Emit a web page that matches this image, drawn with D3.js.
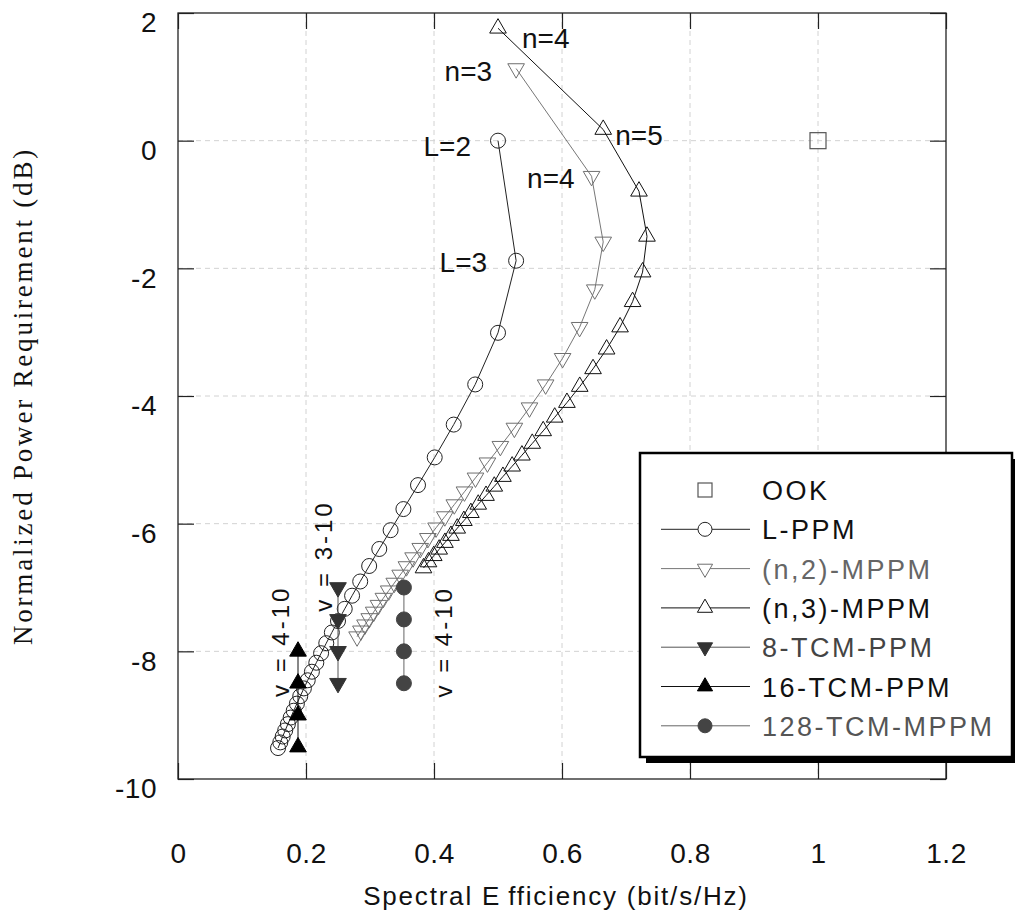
<!DOCTYPE html>
<html>
<head>
<meta charset="utf-8">
<script src="https://cdn.jsdelivr.net/npm/d3@7"></script>
<style>
  body { margin: 0; background: #ffffff; }
  svg { display: block; }
</style>
</head>
<body>
<svg id="chart" width="1015" height="915"></svg>
<script>
// ---- Axis ticks ----
const xTickValues = [0, 0.2, 0.4, 0.6, 0.8, 1, 1.2];
const yTickValues = [2, 0, -2, -4, -6, -8, -10];

// ---- Series: spectral efficiency (bit/s/Hz) vs normalized power (dB) ----
const ookX = [1.0];
const ookY = [0];

// L-PPM, L = 2 ... 32
const lppmX = [0.5, 0.5283, 0.5, 0.4644, 0.4308, 0.4011, 0.375, 0.3522, 0.3322, 0.3145, 0.2987,
  0.2847, 0.2720, 0.2605, 0.25, 0.2404, 0.2317, 0.2236, 0.2161, 0.2092, 0.2027, 0.1967, 0.1910,
  0.1858, 0.1808, 0.1761, 0.1717, 0.1675, 0.1636, 0.1598, 0.1563];
const lppmY = [0, -1.8806, -3.0103, -3.8190, -4.4479, -4.9619, -5.3959, -5.7714, -6.1018, -6.3968,
  -6.6632, -6.9059, -7.1286, -7.3345, -7.5257, -7.7044, -7.8719, -8.0295, -8.1784, -8.3194, -8.4534,
  -8.5809, -8.7026, -8.8190, -8.9304, -9.0374, -9.1401, -9.2391, -9.3345, -9.4265, -9.5154];

// (n,2)-MPPM, n = 3 ... 32
const mppm2X = [0.5283, 0.6462, 0.6644, 0.6512, 0.6275, 0.6009, 0.5744, 0.5492, 0.5256, 0.5037,
  0.4835, 0.4648, 0.4476, 0.4317, 0.4169, 0.4032, 0.3904, 0.3785, 0.3673, 0.3569, 0.3471, 0.3379,
  0.3292, 0.3209, 0.3132, 0.3058, 0.2988, 0.2922, 0.2858, 0.2798];
const mppm2Y = [1.1298, -0.5572, -1.5864, -2.3345, -2.9235, -3.4096, -3.8232, -4.1831, -4.5017,
  -4.7872, -5.0460, -5.2824, -5.5000, -5.7016, -5.8893, -6.0648, -6.2298, -6.3852, -6.5321, -6.6715,
  -6.8040, -6.9303, -7.0509, -7.1664, -7.2770, -7.3833, -7.4855, -7.5839, -7.6788, -7.7705];

// (n,3)-MPPM, n = 4 ... 32
const mppm3X = [0.5, 0.6644, 0.7203, 0.7328, 0.7259, 0.7103, 0.6907, 0.6697, 0.6485, 0.6277,
  0.6077, 0.5886, 0.5706, 0.5535, 0.5374, 0.5221, 0.5077, 0.4942, 0.4813, 0.4691, 0.4576, 0.4467,
  0.4363, 0.4265, 0.4171, 0.4081, 0.3996, 0.3914, 0.3836];
const mppm3Y = [1.7609, 0.1746, -0.7928, -1.4994, -2.0590, -2.5232, -2.9200, -3.2668, -3.5748,
  -3.8518, -4.1033, -4.3338, -4.5464, -4.7437, -4.9277, -5.1001, -5.2622, -5.4151, -5.5600, -5.6975,
  -5.8283, -5.9531, -6.0724, -6.1866, -6.2962, -6.4015, -6.5029, -6.6005, -6.6947];

// Trellis-coded schemes
const tcm8X = [0.25, 0.25, 0.25, 0.25];
const tcm8Y = [-7, -7.5, -8, -8.5];
const tcm16X = [0.1875, 0.1875, 0.1875, 0.1875];
const tcm16Y = [-8, -8.5, -9, -9.5];
const tcm128X = [0.353, 0.353, 0.353, 0.353];
const tcm128Y = [-7, -7.5, -8, -8.5];

const legendNames = ["OOK", "L-PPM", "(n,2)-MPPM", "(n,3)-MPPM", "8-TCM-PPM", "16-TCM-PPM", "128-TCM-MPPM"];

// ---- Layout ----
const svg = d3.select("#chart");
const plot = { left: 178, right: 946, top: 13, bottom: 779 };
const SANS = "'Liberation Sans', Arial, Helvetica, sans-serif";
const SERIF = "'Liberation Serif', 'Times New Roman', Times, serif";

const x = d3.scaleLinear().domain([0, 1.2]).range([plot.left, plot.right]);
const y = d3.scaleLinear().domain([-10, 2]).range([plot.bottom, plot.top]);

// Dashed grid
const grid = svg.append("g")
  .attr("stroke", "#d2d2d2").attr("stroke-width", 1).attr("stroke-dasharray", "5,4");
xTickValues.filter(v => v > 0 && v < 1.2).forEach(v => {
  grid.append("line").attr("x1", x(v)).attr("x2", x(v)).attr("y1", plot.top).attr("y2", plot.bottom);
});
yTickValues.filter(v => v < 2 && v > -10).forEach(v => {
  grid.append("line").attr("y1", y(v)).attr("y2", y(v)).attr("x1", plot.left).attr("x2", plot.right);
});

// Axes with inward ticks on all four sides
const TICK = 16;
function styleAxis(g) {
  g.select(".domain").remove();
  g.selectAll(".tick line").attr("stroke", "#222").attr("stroke-width", 1.2);
  g.selectAll(".tick text").attr("fill", "#111").style("font-family", SANS)
    .style("font-size", "28px").style("letter-spacing", "0.5px");
}
svg.append("g").attr("transform", `translate(0,${plot.bottom})`)
  .call(d3.axisBottom(x).tickValues(xTickValues).tickSize(-TICK).tickSizeOuter(0)
    .tickPadding(64).tickFormat(d => String(d)))
  .call(styleAxis);
svg.append("g").attr("transform", `translate(${plot.left},0)`)
  .call(d3.axisLeft(y).tickValues(yTickValues).tickSize(-TICK).tickSizeOuter(0)
    .tickPadding(21).tickFormat(d => String(d)))
  .call(styleAxis)
  .call(g => g.selectAll(".tick text").attr("y", 10));
svg.append("g").attr("transform", `translate(0,${plot.top})`)
  .call(d3.axisTop(x).tickValues(xTickValues).tickSize(-TICK).tickSizeOuter(0).tickFormat(""))
  .call(styleAxis);
svg.append("g").attr("transform", `translate(${plot.right},0)`)
  .call(d3.axisRight(y).tickValues(yTickValues).tickSize(-TICK).tickSizeOuter(0).tickFormat(""))
  .call(styleAxis);

// Frame
svg.append("rect")
  .attr("x", plot.left).attr("y", plot.top)
  .attr("width", plot.right - plot.left).attr("height", plot.bottom - plot.top)
  .attr("fill", "none").attr("stroke", "#222").attr("stroke-width", 1.3);

// ---- Series ----
const line = d3.line().x(d => x(d[0])).y(d => y(d[1]));
const triUp = d3.symbol().type(d3.symbolTriangle).size(120);

function drawSeries(X, Y, opts) {
  const pts = d3.zip(X, Y);
  const g = svg.append("g");
  if (opts.line) {
    g.append("path").datum(pts).attr("d", line)
      .attr("fill", "none").attr("stroke", opts.line).attr("stroke-width", 1);
  }
  const m = g.selectAll(".m").data(pts).enter();
  if (opts.marker === "circle") {
    m.append("circle").attr("cx", d => x(d[0])).attr("cy", d => y(d[1])).attr("r", opts.r || 7.5)
      .attr("fill", opts.fill).attr("stroke", opts.stroke).attr("stroke-width", 1);
  } else if (opts.marker === "square") {
    m.append("rect").attr("x", d => x(d[0]) - 8).attr("y", d => y(d[1]) - 8)
      .attr("width", 16).attr("height", 16)
      .attr("fill", opts.fill).attr("stroke", opts.stroke).attr("stroke-width", 1.2);
  } else {
    const rot = opts.marker === "down" ? 180 : 0;
    m.append("path").attr("d", triUp())
      .attr("transform", d => `translate(${x(d[0])},${y(d[1])}) rotate(${rot})`)
      .attr("fill", opts.fill).attr("stroke", opts.stroke).attr("stroke-width", 1);
  }
}

drawSeries(lppmX, lppmY, { line: "#222", marker: "circle", fill: "none", stroke: "#222" });
drawSeries(mppm2X, mppm2Y, { line: "#777", marker: "down", fill: "none", stroke: "#6f6f6f" });
drawSeries(mppm3X, mppm3Y, { line: "#111", marker: "up", fill: "none", stroke: "#111" });
drawSeries(ookX, ookY, { marker: "square", fill: "none", stroke: "#555" });
drawSeries(tcm8X, tcm8Y, { line: "#555", marker: "down", fill: "#333", stroke: "#333" });
drawSeries(tcm16X, tcm16Y, { line: "#111", marker: "up", fill: "#000", stroke: "#000" });
drawSeries(tcm128X, tcm128Y, { line: "#666", marker: "circle", r: 7.5, fill: "#444", stroke: "#444" });

// ---- Point annotations ----
const annotations = [
  { text: "L=2", px: lppmX[0], py: lppmY[0], anchor: "end", dx: -27, dy: 15 },
  { text: "L=3", px: lppmX[1], py: lppmY[1], anchor: "end", dx: -29, dy: 11 },
  { text: "n=3", px: mppm2X[0], py: mppm2Y[0], anchor: "end", dx: -24, dy: 12.5 },
  { text: "n=4", px: mppm2X[1], py: mppm2Y[1], anchor: "end", dx: -17, dy: 12 },
  { text: "n=4", px: mppm3X[0], py: mppm3Y[0], anchor: "start", dx: 24, dy: 19.5 },
  { text: "n=5", px: mppm3X[1], py: mppm3Y[1], anchor: "start", dx: 12, dy: 15.5 }
];
svg.append("g").selectAll("text").data(annotations).enter().append("text")
  .attr("x", d => x(d.px) + d.dx).attr("y", d => y(d.py) + d.dy)
  .attr("text-anchor", d => d.anchor)
  .style("font-family", SANS).style("font-size", "28px").attr("fill", "#111")
  .text(d => d.text);

// Vertical range labels beside the coded schemes
const rangeLabels = [
  { text: "v = 4-10", px: tcm16X[0], py: tcm16Y[0], dx: -9.5, dy: -10 },
  { text: "v = 3-10", px: tcm8X[0], py: tcm8Y[0], dx: -6, dy: -31.5 },
  { text: "v = 4-10", px: tcm128X[0], py: tcm128Y[2], dx: 48, dy: -9.5 }
];
svg.append("g").selectAll("text").data(rangeLabels).enter().append("text")
  .attr("transform", d => `translate(${x(d.px) + d.dx},${y(d.py) + d.dy}) rotate(-90)`)
  .attr("text-anchor", "middle")
  .style("font-family", SANS).style("font-size", "24px").style("letter-spacing", "3px")
  .attr("fill", "#111")
  .text(d => d.text);

// ---- Axis titles ----
const xTitle = svg.append("text")
  .attr("x", (plot.left + plot.right) / 2 - 6).attr("y", 905)
  .attr("text-anchor", "middle")
  .style("font-family", SANS).style("font-size", "26px").style("letter-spacing", "1.8px")
  .attr("fill", "#111");
xTitle.append("tspan").text("Spectral E");
xTitle.append("tspan").attr("dx", 7).text("fficiency (bit/s/Hz)");

svg.append("text")
  .attr("transform", `translate(32,${(plot.top + plot.bottom) / 2}) rotate(-90)`)
  .attr("text-anchor", "middle")
  .style("font-family", SERIF).style("font-size", "27px").style("letter-spacing", "2.8px")
  .attr("fill", "#111")
  .text("Normalized Power Requirement (dB)");

// ---- Legend ----
const lg = { x: 640, y: 453, w: 372, h: 304, shadow: 6 };
svg.append("rect").attr("x", lg.x + lg.shadow).attr("y", lg.y + lg.shadow)
  .attr("width", lg.w).attr("height", lg.h).attr("fill", "#000");
svg.append("rect").attr("x", lg.x).attr("y", lg.y)
  .attr("width", lg.w).attr("height", lg.h)
  .attr("fill", "#fff").attr("stroke", "#000").attr("stroke-width", 2.5);

const legendStyles = [
  { line: null, marker: "square", fill: "none", stroke: "#555", text: "#111" },
  { line: "#222", marker: "circle", fill: "#fff", stroke: "#222", text: "#111" },
  { line: "#777", marker: "down", fill: "#fff", stroke: "#6f6f6f", text: "#666" },
  { line: "#111", marker: "up", fill: "#fff", stroke: "#111", text: "#111" },
  { line: "#555", marker: "down", fill: "#333", stroke: "#333", text: "#444" },
  { line: "#111", marker: "up", fill: "#000", stroke: "#000", text: "#111" },
  { line: "#666", marker: "circle", fill: "#444", stroke: "#444", text: "#555" }
];
const rowY0 = 490, rowStep = 39.3, lineX1 = 661, lineX2 = 750, markX = 705, textX = 762;
const triLegend = d3.symbol().type(d3.symbolTriangle).size(100);
legendNames.forEach((name, i) => {
  const st = legendStyles[i];
  const cy = rowY0 + i * rowStep;
  const g = svg.append("g");
  if (st.line) {
    g.append("line").attr("x1", lineX1).attr("x2", lineX2).attr("y1", cy).attr("y2", cy)
      .attr("stroke", st.line).attr("stroke-width", 1);
  }
  if (st.marker === "square") {
    g.append("rect").attr("x", markX - 7).attr("y", cy - 7).attr("width", 14).attr("height", 14)
      .attr("fill", st.fill).attr("stroke", st.stroke).attr("stroke-width", 1.2);
  } else if (st.marker === "circle") {
    g.append("circle").attr("cx", markX).attr("cy", cy).attr("r", 7)
      .attr("fill", st.fill).attr("stroke", st.stroke).attr("stroke-width", 1);
  } else {
    const rot = st.marker === "down" ? 180 : 0;
    g.append("path").attr("d", triLegend())
      .attr("transform", `translate(${markX},${cy}) rotate(${rot})`)
      .attr("fill", st.fill).attr("stroke", st.stroke).attr("stroke-width", 1);
  }
  g.append("text").attr("x", textX).attr("y", cy + 10)
    .style("font-family", SANS).style("font-size", "27px").style("letter-spacing", "2.5px")
    .attr("fill", st.text).text(name);
});
</script>
</body>
</html>
